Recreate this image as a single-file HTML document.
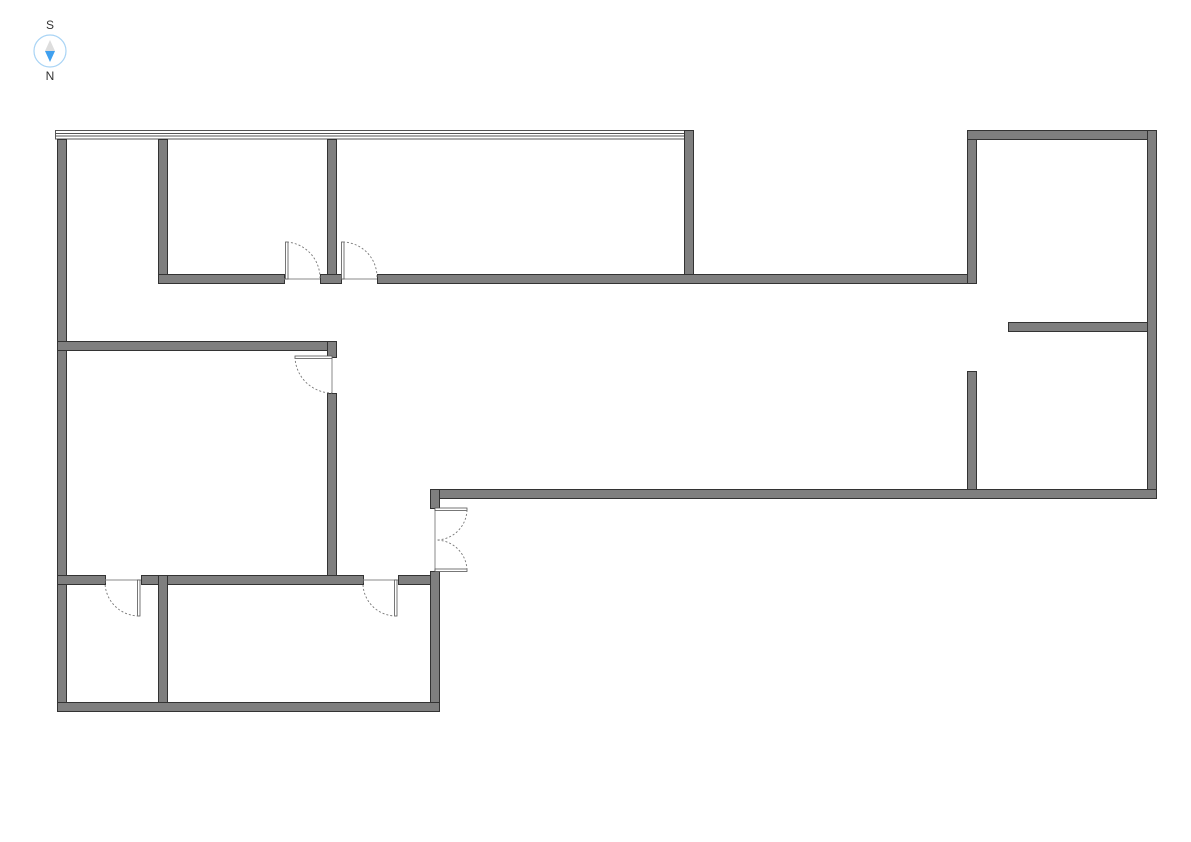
<!DOCTYPE html>
<html><head><meta charset="utf-8"><style>
html,body{margin:0;padding:0;background:#fff;width:1191px;height:842px;overflow:hidden}
svg{display:block}
</style></head><body>
<svg width="1191" height="842" viewBox="0 0 1191 842" xmlns="http://www.w3.org/2000/svg">
<!-- compass -->
<circle cx="50" cy="51" r="16" fill="#fff" stroke="#a9d4f5" stroke-width="1.2"/>
<polygon points="50,40 45,51 55,51" fill="#ddd"/>
<polygon points="45,51 55,51 50,62" fill="#3fa0ef"/>
<text x="50" y="29" font-family="Liberation Sans, sans-serif" font-size="12" fill="#333" text-anchor="middle">S</text>
<text x="50" y="80" font-family="Liberation Sans, sans-serif" font-size="12" fill="#333" text-anchor="middle">N</text>

<!-- window strip top -->
<g fill="#fff" stroke="#555" stroke-width="1">
<rect x="55.5" y="130.5" width="635" height="8.5"/>
<line x1="55.5" y1="133.5" x2="690.5" y2="133.5"/>
<line x1="55.5" y1="136" x2="690.5" y2="136"/>
</g>

<g fill="#7f7f7f" stroke="#333" stroke-width="1">
<!-- left outer wall -->
<rect x="57.5" y="139.5" width="9" height="572"/>
<!-- vertical walls top rooms -->
<rect x="158.5" y="139.5" width="9" height="144"/>
<rect x="327.5" y="139.5" width="9" height="144"/>
<rect x="684.5" y="130.5" width="9" height="153"/>
<!-- corridor top wall -->
<rect x="158.5" y="274.5" width="126" height="9"/>
<rect x="320.5" y="274.5" width="21" height="9"/>
<rect x="377.5" y="274.5" width="598" height="9"/>
<!-- right block -->
<rect x="967.5" y="130.5" width="9" height="153"/>
<rect x="967.5" y="130.5" width="189" height="9"/>
<rect x="1147.5" y="130.5" width="9" height="368"/>
<rect x="1008.5" y="322.5" width="139" height="9"/>
<rect x="967.5" y="371.5" width="9" height="127"/>
<rect x="430.5" y="489.5" width="726" height="9"/>
<rect x="430.5" y="489.5" width="9" height="19"/>
<!-- left room -->
<rect x="57.5" y="341.5" width="279" height="9"/>
<rect x="327.5" y="341.5" width="9" height="16"/>
<rect x="327.5" y="393.5" width="9" height="190"/>
<!-- lower wall -->
<rect x="57.5" y="575.5" width="48" height="9"/>
<rect x="141.5" y="575.5" width="222" height="9"/>
<rect x="398.5" y="575.5" width="41" height="9"/>
<rect x="430.5" y="571.5" width="9" height="140"/>
<rect x="158.5" y="575.5" width="9" height="136"/>
<rect x="57.5" y="702.5" width="382" height="9"/>
</g>

<!-- doors -->
<g fill="none" stroke="#888" stroke-width="1">
<line x1="284" y1="279" x2="320" y2="279"/>
<line x1="341" y1="279" x2="377" y2="279"/>
<line x1="332" y1="357" x2="332" y2="393"/>
<line x1="105" y1="580" x2="141" y2="580"/>
<line x1="363" y1="580" x2="398" y2="580"/>
<line x1="435" y1="509" x2="435" y2="571"/>
</g>
<g fill="#fff" stroke="#555" stroke-width="0.8">
<rect x="285.5" y="242" width="2.5" height="37"/>
<rect x="341.5" y="242" width="2.5" height="37"/>
<rect x="295" y="356" width="37" height="2.5"/>
<rect x="137.5" y="580" width="2.5" height="36"/>
<rect x="394.5" y="580" width="2.5" height="36"/>
<rect x="435" y="508" width="32" height="2.5"/>
<rect x="435" y="569" width="32" height="2.5"/>
</g>
<g fill="none" stroke="#777" stroke-width="0.9" stroke-dasharray="2,2">
<path d="M287,242 A36,36 0 0 1 320,278"/>
<path d="M343,242 A35,35 0 0 1 377,278"/>
<path d="M295,357 A37,37 0 0 0 332,393"/>
<path d="M105,581 A34,34 0 0 0 139,616"/>
<path d="M363,581 A33,33 0 0 0 396,616"/>
<path d="M467,510 A31,31 0 0 1 436,540"/>
<path d="M467,570 A31,31 0 0 0 436,540"/>
</g>
</svg>
</body></html>
